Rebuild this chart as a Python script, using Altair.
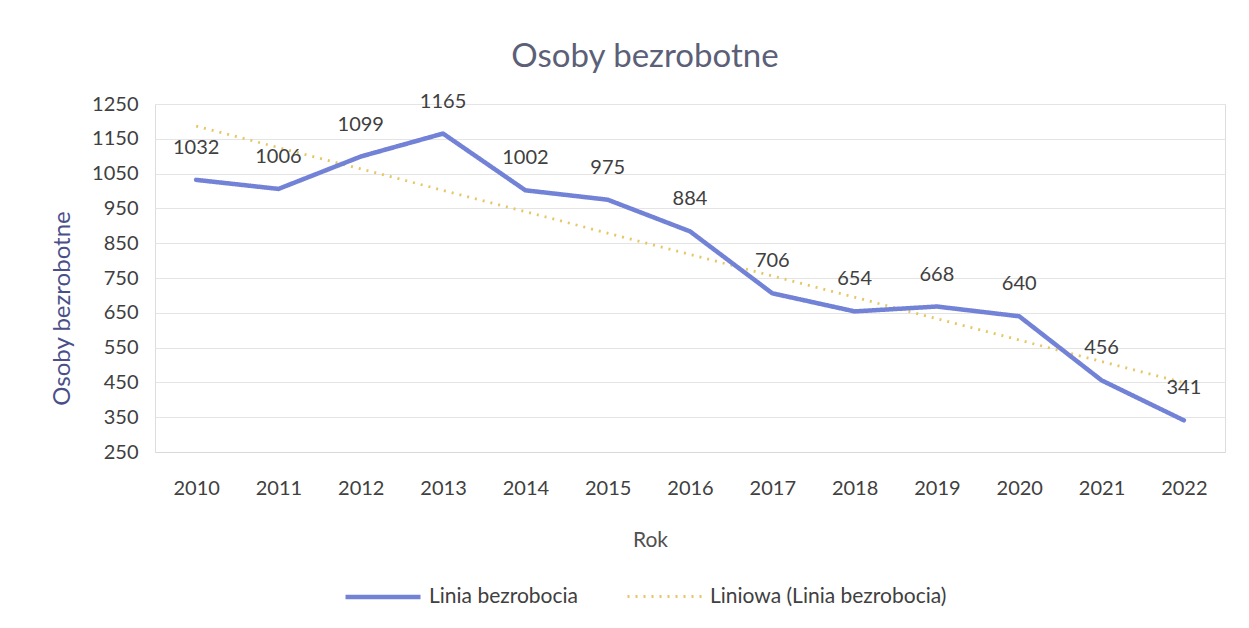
import altair as alt
import pandas as pd

years = [2010, 2011, 2012, 2013, 2014, 2015, 2016, 2017, 2018, 2019, 2020, 2021, 2022]
values = [1032, 1006, 1099, 1165, 1002, 975, 884, 706, 654, 668, 640, 456, 341]
series_names = ["Linia bezrobocia", "Liniowa (Linia bezrobocia)"]
y_ticks = [250, 350, 450, 550, 650, 750, 850, 950, 1050, 1150, 1250]

df = pd.DataFrame({"year": years, "value": values})

FONT = "Lato"
TXT = "#404040"
LINE_C = "#7282d6"
TREND_C = "#e6c766"

x_enc = alt.X("year:Q",
              scale=alt.Scale(domain=[2009.5, 2022.5], nice=False, zero=False),
              axis=alt.Axis(values=years, format="d", title="Rok", grid=False,
                            ticks=False, labelPadding=26, domainColor="#d9d9d9",
                            labelFontSize=20, labelColor=TXT, labelFont=FONT,
                            titleFont=FONT, titleFontSize=21, titleColor="#505050",
                            titleFontWeight="normal", titleX=495, titleY=88,
                            titleBaseline="middle", titleAlign="center"))
y_enc = alt.Y("value:Q",
              scale=alt.Scale(domain=[250, 1250], nice=False, zero=False),
              axis=alt.Axis(values=y_ticks, format="d", title="Osoby bezrobotne", domain=False,
                            ticks=False, labelPadding=17, gridColor="#e4e4e4",
                            labelFontSize=20, labelColor=TXT, labelFont=FONT,
                            titleFont=FONT, titleFontSize=24, titleColor="#4a4f8a",
                            titleFontWeight="normal", titleX=-93, titleY=204,
                            titleAngle=270, titleBaseline="middle", titleAlign="center"))

legend = alt.Legend(title=None, orient="none", legendX=188, legendY=453,
                    direction="horizontal", symbolType="stroke", symbolSize=5625,
                    symbolStrokeWidth=4, labelFont=FONT, labelFontSize=21,
                    labelColor=TXT, labelOffset=6, columnPadding=42, labelLimit=600)

color = alt.Color("series:N", scale=alt.Scale(domain=series_names, range=[LINE_C, TREND_C]),
                  legend=legend)
dash = alt.StrokeDash("series:N", scale=alt.Scale(domain=series_names, range=[[1, 0], [2, 6]]),
                      legend=legend)
width_enc = alt.StrokeWidth("series:N", scale=alt.Scale(domain=series_names, range=[4.5, 2.8]),
                            legend=legend)

base = alt.Chart(df)

line = base.transform_calculate(series="'Linia bezrobocia'").mark_line(
    strokeCap="round", strokeJoin="round"
).encode(x=x_enc, y=y_enc, color=color, strokeDash=dash, strokeWidth=width_enc)

trend = base.transform_regression("year", "value").transform_calculate(
    series="'Liniowa (Linia bezrobocia)'"
).mark_line(strokeCap="butt").encode(x=x_enc, y=y_enc, color=color, strokeDash=dash,
                                      strokeWidth=width_enc)

labels = base.mark_text(dy=-32, baseline="middle", align="center", font=FONT,
                        fontSize=20, color=TXT).encode(
    x=x_enc, y=y_enc, text=alt.Text("value:Q", format="d"))

chart = alt.layer(trend, line, labels).properties(
    width=1070, height=348,
    autosize=alt.AutoSizeParams(type="none"),
    padding={"left": 147, "top": 96, "right": 16, "bottom": 162},
    title=alt.TitleParams("Osoby bezrobotne", font=FONT, fontSize=33, fontWeight="normal",
                          color="#5c5f78", anchor="middle", frame="group", dx=-45,
                          offset=18),
).configure_view(stroke=None).configure(background="white")

chart.save("out.html", embed_options={"renderer": "svg", "actions": False})
